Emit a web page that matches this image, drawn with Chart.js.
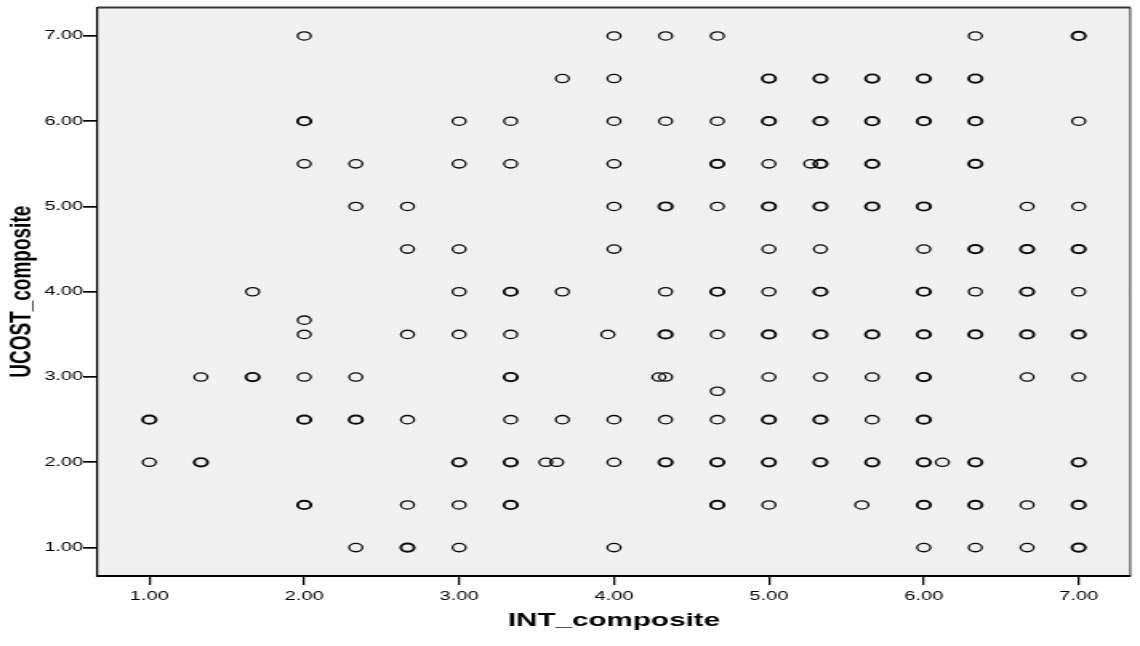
<!DOCTYPE html>
<html>
<head>
<meta charset="utf-8">
<title>UCOST_composite vs INT_composite</title>
<script src="https://cdn.jsdelivr.net/npm/chart.js@4.4.1/dist/chart.umd.min.js"></script>
<style>
  html, body { margin: 0; padding: 0; background: #fff; overflow: hidden; }
  /* the reference is a horizontally stretched SPSS export, so the canvas is stretched too */
  #wrap { width: 712px; height: 646px; transform-origin: 0 0; }
</style>
</head>
<body>
<div id="wrap"><canvas id="scatterChart" width="712" height="646"></canvas></div>
<script>
// INT_composite (x), UCOST_composite (y), overlapped = several cases on the same spot (drawn bolder)
const intComposite = [
  2, 4, 4.333, 4.667, 6.333, 7,                                          // y 7.00
  3.667, 4, 5, 5.333, 5.667, 6, 6.333,                                   // y 6.50
  2, 3, 3.333, 4, 4.333, 4.667, 5, 5.333, 5.667, 6, 6.333, 7,            // y 6.00
  2, 2.333, 3, 3.333, 4, 4.667, 5, 5.27, 5.333, 5.667, 6.333,            // y 5.50
  2.333, 2.667, 4, 4.333, 4.667, 5, 5.333, 5.667, 6, 6.667, 7,           // y 5.00
  2.667, 3, 4, 5, 5.333, 6, 6.333, 6.667, 7,                            // y 4.50
  1.667, 3, 3.333, 3.667, 4.333, 4.667, 5, 5.333, 6, 6.333, 6.667, 7,    // y 4.00
  2,                                                                     // y 3.67
  2, 2.667, 3, 3.333, 3.96, 4.333, 4.667, 5, 5.333, 5.667, 6, 6.333, 6.667, 7, // y 3.50
  1.333, 1.667, 2, 2.333, 3.333, 4.29, 4.333, 5, 5.333, 5.667, 6, 6.667, 7,    // y 3.00
  4.667,                                                                 // y 2.83
  1, 2, 2.333, 2.667, 3.333, 3.667, 4, 4.333, 4.667, 5, 5.333, 5.667, 6, // y 2.50
  1, 1.333, 3, 3.333, 3.56, 3.63, 4, 4.333, 4.667, 5, 5.333, 5.667, 6, 6.12, 6.333, 7, // y 2.00
  2, 2.667, 3, 3.333, 4.667, 5, 5.6, 6, 6.333, 6.667, 7,                 // y 1.50
  2.333, 2.667, 3, 4, 6, 6.333, 6.667, 7                                 // y 1.00
];
const ucostComposite = [
  7, 7, 7, 7, 7, 7,
  6.5, 6.5, 6.5, 6.5, 6.5, 6.5, 6.5,
  6, 6, 6, 6, 6, 6, 6, 6, 6, 6, 6, 6,
  5.5, 5.5, 5.5, 5.5, 5.5, 5.5, 5.5, 5.5, 5.5, 5.5, 5.5,
  5, 5, 5, 5, 5, 5, 5, 5, 5, 5, 5,
  4.5, 4.5, 4.5, 4.5, 4.5, 4.5, 4.5, 4.5, 4.5,
  4, 4, 4, 4, 4, 4, 4, 4, 4, 4, 4, 4,
  3.667,
  3.5, 3.5, 3.5, 3.5, 3.5, 3.5, 3.5, 3.5, 3.5, 3.5, 3.5, 3.5, 3.5, 3.5,
  3, 3, 3, 3, 3, 3, 3, 3, 3, 3, 3, 3, 3,
  2.833,
  2.5, 2.5, 2.5, 2.5, 2.5, 2.5, 2.5, 2.5, 2.5, 2.5, 2.5, 2.5, 2.5,
  2, 2, 2, 2, 2, 2, 2, 2, 2, 2, 2, 2, 2, 2, 2, 2,
  1.5, 1.5, 1.5, 1.5, 1.5, 1.5, 1.5, 1.5, 1.5, 1.5, 1.5,
  1, 1, 1, 1, 1, 1, 1, 1
];
const overlapped = [
  0, 0, 0, 0, 0, 1,
  0, 0, 1, 1, 1, 1, 1,
  1, 0, 0, 0, 0, 0, 1, 1, 1, 1, 1, 0,
  0, 0, 0, 0, 0, 1, 0, 0, 1, 1, 1,
  0, 0, 0, 1, 0, 1, 1, 1, 1, 0, 0,
  0, 0, 0, 0, 0, 0, 1, 1, 1,
  0, 0, 1, 0, 0, 1, 0, 1, 1, 0, 1, 0,
  0,
  0, 0, 0, 0, 0, 1, 0, 1, 1, 1, 1, 1, 1, 1,
  0, 1, 0, 0, 1, 0, 0, 0, 0, 0, 1, 0, 0,
  0,
  1, 1, 1, 0, 0, 0, 0, 0, 0, 1, 1, 0, 1,
  0, 1, 1, 1, 0, 0, 0, 1, 1, 1, 1, 1, 1, 0, 1, 1,
  1, 0, 0, 1, 1, 0, 0, 1, 1, 0, 1,
  0, 1, 0, 0, 0, 0, 0, 1
];
const tickValues = [1, 2, 3, 4, 5, 6, 7];

const stretch = 1140 / 712;
document.getElementById('wrap').style.transform = 'scaleX(' + stretch + ')';

const points = intComposite.map((x, i) => ({ x: x, y: ucostComposite[i] }));

const plotFrame = {
  id: 'plotFrame',
  beforeDraw(chart) {
    const { ctx, chartArea: a } = chart;
    ctx.save();
    ctx.fillStyle = '#f0f0f0';
    ctx.fillRect(a.left, a.top, a.right - a.left, a.bottom - a.top);
    ctx.restore();
  },
  afterDraw(chart) {
    const { ctx, chartArea: a } = chart;
    ctx.save();
    ctx.strokeStyle = '#333';
    ctx.lineWidth = 2;
    ctx.beginPath();
    ctx.moveTo(a.left, a.top);
    ctx.lineTo(a.right, a.top);
    ctx.stroke();
    ctx.lineWidth = 1;
    ctx.beginPath();
    ctx.moveTo(a.right, a.top);
    ctx.lineTo(a.right, a.bottom);
    ctx.stroke();
    ctx.restore();
  }
};

const axisFont = { family: 'Arial, "Liberation Sans", sans-serif', size: 12.5 };
const titleFont = { family: 'Arial, "Liberation Sans", sans-serif', weight: 'bold' };

new Chart(document.getElementById('scatterChart'), {
  type: 'scatter',
  data: {
    datasets: [{
      label: 'UCOST_composite',
      data: points,
      pointStyle: 'circle',
      pointRadius: 4.15,
      pointHoverRadius: 4.15,
      pointBackgroundColor: 'rgba(0,0,0,0)',
      pointBorderColor: '#0a0a0a',
      pointBorderWidth: c => overlapped[c.dataIndex] ? 1.9 : 1.3
    }]
  },
  options: {
    responsive: false,
    animation: false,
    events: [],
    layout: { padding: { left: 0, right: 1, top: 6, bottom: 0 } },
    plugins: {
      legend: { display: false },
      tooltip: { enabled: false }
    },
    scales: {
      x: {
        type: 'linear',
        min: 2 / 3,
        max: 22 / 3,
        afterBuildTicks: s => { s.ticks = tickValues.map(v => ({ value: v })); },
        afterFit: s => { s.height = 70; },
        grid: { drawOnChartArea: false, drawTicks: true, tickLength: 9, color: '#000', lineWidth: 1.25 },
        border: { display: true, color: '#000', width: 2 },
        ticks: { padding: 4, color: '#000', font: axisFont, maxRotation: 0, callback: v => v.toFixed(2) },
        title: {
          display: true,
          text: 'INT_composite',
          color: '#000',
          font: Object.assign({ size: 18.5 }, titleFont),
          padding: { top: 0, bottom: 14 }
        }
      },
      y: {
        type: 'linear',
        min: 2 / 3,
        max: 22 / 3,
        afterBuildTicks: s => { s.ticks = tickValues.map(v => ({ value: v })); },
        afterFit: s => { s.width = 61; },
        grid: { drawOnChartArea: false, drawTicks: true, tickLength: 9, color: '#000', lineWidth: 1.7 },
        border: { display: true, color: '#000', width: 1.25 },
        ticks: { padding: 0, color: '#000', font: axisFont, callback: v => v.toFixed(2) },
        title: {
          display: true,
          text: 'UCOST_composite',
          color: '#000',
          font: Object.assign({ size: 19 }, titleFont),
          padding: { top: 2, bottom: 0 }
        }
      }
    }
  },
  plugins: [plotFrame]
});
</script>
</body>
</html>
